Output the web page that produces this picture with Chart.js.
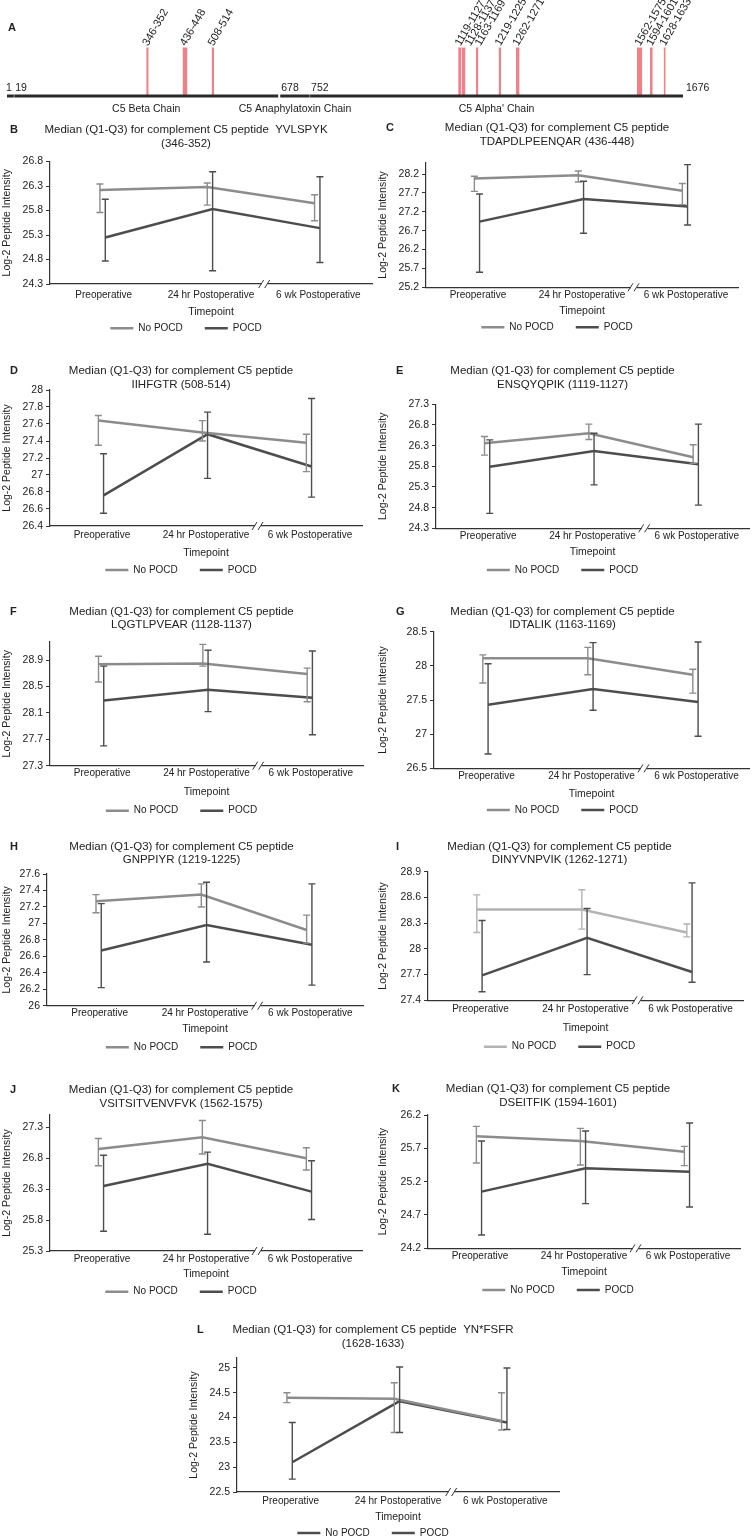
<!DOCTYPE html>
<html>
<head>
<meta charset="utf-8">
<script src="https://cdn.jsdelivr.net/npm/chart.js@4.4.1/dist/chart.umd.min.js"></script>
<style>
  body { margin: 0; background: #fff; }
  #page { position: relative; width: 752px; height: 1539px; overflow: hidden; }
</style>
</head>
<body>
<div id="page"></div>
<script>
// ---------- data ----------
const timepoints = ["Preoperative", "24 hr Postoperative", "6 wk Postoperative"];
const groups = ["No POCD", "POCD"];
const panelLetters = ["B", "C", "D", "E", "F", "G", "H", "I", "J", "K", "L"];
const peptideSeq = ["YVLSPYK", "TDAPDLPEENQAR", "IIHFGTR", "ENSQYQPIK", "LQGTLPVEAR", "IDTALIK",
                    "GNPPIYR", "DINYVNPVIK", "VSITSITVENVFVK", "DSEITFIK", "YN*FSFR"];
const peptideStart = [346, 436, 508, 1119, 1128, 1163, 1219, 1262, 1562, 1594, 1628];
const peptideEnd   = [352, 448, 514, 1127, 1137, 1169, 1225, 1271, 1575, 1601, 1633];

const chainNames = ["", "C5 Beta Chain", "C5 Anaphylatoxin Chain", "C5 Alpha' Chain"];
const chainStart = [1, 19, 678, 752];
const chainEnd   = [18, 673, 751, 1676];

const yTicks = [
  [24.3, 24.8, 25.3, 25.8, 26.3, 26.8],
  [25.2, 25.7, 26.2, 26.7, 27.2, 27.7, 28.2],
  [26.4, 26.6, 26.8, 27, 27.2, 27.4, 27.6, 27.8, 28],
  [24.3, 24.8, 25.3, 25.8, 26.3, 26.8, 27.3],
  [27.3, 27.5, 27.7, 27.9, 28.1, 28.3, 28.5, 28.7, 28.9, 29.1],
  [26.5, 27, 27.5, 28, 28.5],
  [26, 26.2, 26.4, 26.6, 26.8, 27, 27.2, 27.4, 27.6],
  [27.4, 27.7, 28, 28.3, 28.6, 28.9],
  [25.3, 25.8, 26.3, 26.8, 27.3],
  [24.2, 24.7, 25.2, 25.7, 26.2],
  [22.5, 23, 23.5, 24, 24.5, 25]
];
const yMax = [26.8, 28.5, 28, 27.3, 29.18, 28.5, 27.6, 28.9, 27.5, 26.2, 25.2];

// medians and quartiles, one row per peptide, values at the 3 timepoints
const noPocdMedian = [
  [26.22, 26.28, 25.95], [28.08, 28.17, 27.76], [27.64, 27.50, 27.38], [26.36, 26.60, 26.02],
  [28.84, 28.85, 28.69], [28.11, 28.11, 27.87], [27.27, 27.35, 26.92], [28.46, 28.46, 28.19],
  [26.95, 27.14, 26.80], [25.88, 25.81, 25.65], [24.40, 24.38, 23.93]
];
const noPocdQ1 = [
  [25.76, 25.91, 25.59], [27.74, 27.99, 27.39], [27.35, 27.40, 27.04], [26.07, 26.45, 25.87],
  [28.57, 28.81, 28.27], [27.75, 27.87, 27.60], [27.13, 27.20, 26.76], [28.19, 28.23, 28.14],
  [26.68, 26.87, 26.61], [25.48, 25.45, 25.44], [24.30, 23.70, 23.75]
];
const noPocdQ3 = [
  [26.34, 26.36, 26.12], [28.14, 28.28, 27.95], [27.70, 27.64, 27.48], [26.52, 26.82, 26.32],
  [28.96, 29.14, 28.78], [28.16, 28.27, 27.95], [27.35, 27.48, 27.10], [28.63, 28.69, 28.29],
  [27.12, 27.41, 26.97], [26.03, 26.00, 25.73], [24.50, 24.70, 24.50]
];
const pocdMedian = [
  [25.25, 25.83, 25.44], [26.94, 27.54, 27.34], [26.76, 27.48, 27.10], [25.79, 26.17, 25.85],
  [28.29, 28.45, 28.33], [27.43, 27.66, 27.47], [26.67, 26.98, 26.74], [27.69, 28.13, 27.73],
  [26.35, 26.71, 26.26], [25.05, 25.40, 25.35], [23.10, 24.33, 23.90]
];
const pocdQ1 = [
  [24.77, 24.57, 24.74], [25.60, 26.63, 26.85], [26.55, 26.96, 26.74], [24.66, 25.35, 24.86],
  [27.60, 28.12, 27.77], [26.71, 27.35, 26.97], [26.22, 26.53, 26.25], [27.50, 27.70, 27.61],
  [25.62, 25.57, 25.81], [24.40, 24.87, 24.82], [22.76, 23.70, 23.76]
];
const pocdQ3 = [
  [26.03, 26.59, 26.49], [27.67, 28.01, 28.45], [27.25, 27.74, 27.90], [26.44, 26.60, 26.82],
  [28.81, 29.05, 29.04], [28.03, 28.34, 28.35], [27.24, 27.50, 27.48], [28.33, 28.47, 28.77],
  [26.85, 26.90, 26.76], [25.81, 25.96, 26.08], [23.90, 25.02, 25.00]
];

// ---------- layout (page pixels) ----------
// left, title line 1 y, plot top, plot bottom, plot left, plot right, x label y, axis title y, legend y, letter x
const frames = [
  [0,   130,   161.5, 284,    50,  372, 295,    311.7, 328.3,  10],
  [376, 128.3, 162.7, 287.3,  426, 738, 295,    311,   327.3,  386],
  [0,   371,   390,   526,    50,  362, 535,    553.3, 570,    10],
  [376, 371,   404.3, 528.3,  436, 749, 536.7,  552.3, 570,    396],
  [0,   611.7, 641.7, 765.7,  50,  363, 773.3,  791.7, 810.7,  10],
  [376, 611.7, 631.7, 768.3,  434, 749, 776.7,  794.3, 810,    396],
  [0,   846.7, 874,   1005.7, 47,  363, 1013.3, 1029,  1047.3, 10],
  [376, 846.7, 871.7, 1000.3, 428, 743, 1009,   1028.3, 1046.7, 396],
  [0,   1090,  1115,  1251,   50,  362, 1259,   1274,  1291.7, 10],
  [376, 1089,  1115,  1248.3, 428, 740, 1256.7, 1272,  1290,   392],
  [187, 1330,  1358,  1492,   237, 559, 1501,   1517,  1533,   197]
];
const seqOnFirstLine = ["B", "L"];
const FONT = '"Liberation Sans", Arial, Helvetica, sans-serif';
const TEXT = '#222';
const AXIS = '#333';
const GREY = '#8c8c8c';
const DARK = '#4d4d4d';

Chart.defaults.font.family = FONT;
Chart.defaults.color = TEXT;
Chart.defaults.animation = false;

const page = document.getElementById('page');

function addCanvas(left, top, w, h) {
  const c = document.createElement('canvas');
  c.width = w;
  c.height = h;
  c.style.cssText = `position:absolute;left:${left}px;top:${top}px;width:${w}px;height:${h}px;`;
  page.appendChild(c);
  return c;
}

// ---------- panel A: peptide map on the C5 chains ----------
function drawProteinMap() {
  const W = 752, H = 120, lineY = 96, barTop = 48, xL = 7, xR = 683;
  const c = addCanvas(0, 0, W, H);
  const datasets = [];
  chainStart.forEach((s, k) => datasets.push({
    data: [{x: s, y: 0}, {x: chainEnd[k], y: 0}],
    showLine: true, borderColor: '#2a2a2a', borderWidth: 3, pointRadius: 0, clip: false
  }));
  peptideStart.forEach((s, k) => datasets.push({
    data: [{x: s, y: 1}, {x: peptideEnd[k], y: 1}],
    showLine: true, borderColor: '#f27f86', backgroundColor: '#f27f86', borderWidth: 1,
    fill: {value: 0}, pointRadius: 0, clip: false
  }));

  const mapText = {
    id: 'mapText',
    afterDraw(chart) {
      const {ctx, scales: {x, y}} = chart;
      const base = y.getPixelForValue(0), top = y.getPixelForValue(1);
      ctx.save();
      ctx.fillStyle = TEXT;
      ctx.font = `bold 11px ${FONT}`;
      ctx.textBaseline = 'middle';
      ctx.fillText('A', 8, 28);

      // residue numbers at chain ends
      ctx.font = `10.5px ${FONT}`;
      ctx.textAlign = 'center';
      ctx.fillText(String(chainStart[0]), x.getPixelForValue(chainStart[0]) + 2, base - 8);
      ctx.textAlign = 'left';
      for (let k = 1; k < chainStart.length; k++) {
        ctx.fillText(String(chainStart[k]), x.getPixelForValue(chainStart[k]) + 1, base - 8);
      }
      const last = chainEnd[chainEnd.length - 1];
      ctx.fillText(String(last), x.getPixelForValue(last) + 3, base - 8);

      // chain names
      ctx.textAlign = 'center';
      chainNames.forEach((n, k) => {
        if (!n) return;
        ctx.fillText(n, x.getPixelForValue((chainStart[k] + chainEnd[k]) / 2), base + 13);
      });

      // rotated peptide ranges, nudged apart when bars sit too close
      ctx.font = `11px ${FONT}`;
      ctx.textAlign = 'left';
      let prev = -Infinity;
      peptideStart.forEach((s, k) => {
        let px = x.getPixelForValue((s + peptideEnd[k]) / 2);
        if (px - prev < 10) px = prev + 10;
        prev = px;
        ctx.save();
        ctx.translate(px - 2, top - 3);
        ctx.rotate(-Math.PI / 3);
        ctx.fillText(`${s}-${peptideEnd[k]}`, 0, 0);
        ctx.restore();
      });
      ctx.restore();
    }
  };

  new Chart(c, {
    type: 'scatter',
    data: {datasets},
    options: {
      responsive: false,
      events: [],
      layout: {padding: {left: xL, right: W - xR, top: barTop, bottom: H - lineY}},
      scales: {
        x: {type: 'linear', min: 1, max: 1676, display: false},
        y: {min: 0, max: 1, display: false}
      },
      plugins: {legend: {display: false}, tooltip: {enabled: false}}
    },
    plugins: [mapText]
  });
}

// ---------- panels B-L ----------
function drawPanel(i) {
  const [left, titleY, plotTop, plotBottom, plotL, plotR, labY, timeY, legY, letterX] = frames[i];
  const W = 376, TLH = 13.5, LEGP = 22;
  const cTop = Math.round(titleY - 14);
  const legTop = legY - LEGP - 5;
  const cH = Math.round(legTop + LEGP + 20 + 3 - cTop);
  const padBottom = cTop + cH - (legTop + LEGP + 20);
  const c = addCanvas(left, cTop, W, cH);

  const letter = panelLetters[i];
  const range = `(${peptideStart[i]}-${peptideEnd[i]})`;
  const title = seqOnFirstLine.includes(letter)
    ? [`Median (Q1-Q3) for complement C5 peptide  ${peptideSeq[i]}`, range]
    : ['Median (Q1-Q3) for complement C5 peptide', `${peptideSeq[i]} ${range}`];

  const noColor = letter === 'I' ? '#b3b3b3' : GREY;
  const offsets = [-0.035, 0.015];
  const series = [
    {med: noPocdMedian[i], lo: noPocdQ1[i], hi: noPocdQ3[i], color: noColor},
    {med: pocdMedian[i], lo: pocdQ1[i], hi: pocdQ3[i], color: DARK}
  ];

  const errorBars = {
    id: 'errorBars',
    afterDatasetsDraw(chart) {
      const {ctx, scales: {x, y}} = chart;
      series.forEach((s, d) => {
        ctx.save();
        ctx.strokeStyle = s.color;
        ctx.lineWidth = 1.4;
        s.lo.forEach((lo, k) => {
          const px = x.getPixelForValue(k + offsets[d]);
          const y1 = y.getPixelForValue(lo), y2 = y.getPixelForValue(s.hi[k]);
          ctx.beginPath();
          ctx.moveTo(px, y1); ctx.lineTo(px, y2);
          ctx.moveTo(px - 3.5, y1); ctx.lineTo(px + 3.5, y1);
          ctx.moveTo(px - 3.5, y2); ctx.lineTo(px + 3.5, y2);
          ctx.stroke();
        });
        ctx.restore();
      });
    }
  };

  const decorations = {
    id: 'decorations',
    afterDraw(chart) {
      const {ctx, scales: {x}, chartArea} = chart;
      ctx.save();
      // axis break between 24 hr and 6 wk
      const px = x.getPixelForValue(1.5), py = chartArea.bottom;
      ctx.fillStyle = '#fff';
      ctx.fillRect(px - 3, py - 2, 6, 4);
      ctx.strokeStyle = AXIS;
      ctx.lineWidth = 1;
      ctx.beginPath();
      ctx.moveTo(px - 6, py + 4); ctx.lineTo(px - 1, py - 4);
      ctx.moveTo(px, py + 4); ctx.lineTo(px + 5, py - 4);
      ctx.stroke();
      // panel letter
      ctx.fillStyle = TEXT;
      ctx.font = `bold 11px ${FONT}`;
      ctx.textBaseline = 'middle';
      ctx.fillText(letter, letterX - left, titleY - cTop);
      ctx.restore();
    }
  };

  new Chart(c, {
    type: 'line',
    data: {
      datasets: series.map((s, d) => ({
        label: groups[d],
        data: s.med.map((m, k) => ({x: k + offsets[d], y: m})),
        borderColor: s.color,
        backgroundColor: s.color,
        borderWidth: 2.5,
        pointRadius: 0,
        tension: 0,
        clip: false
      }))
    },
    options: {
      responsive: false,
      events: [],
      layout: {padding: {left: 0, top: 0, right: left + W - plotR, bottom: padBottom}},
      scales: {
        x: {
          type: 'linear', min: -0.5, max: 2.5,
          afterBuildTicks: s => { s.ticks = timepoints.map((t, k) => ({value: k})); },
          afterFit: s => { s.height = legTop - plotBottom; },
          grid: {display: false, drawTicks: false},
          border: {display: true, color: AXIS, width: 1.2},
          ticks: {
            autoSkip: false, maxRotation: 0, padding: labY - plotBottom - 6,
            font: {size: 10}, color: TEXT,
            callback: v => timepoints[v]
          },
          title: {
            display: true, text: 'Timepoint', color: TEXT,
            font: {size: 10.5},
            padding: {top: 0, bottom: legTop - timeY - 6.3}
          }
        },
        y: {
          type: 'linear', min: yTicks[i][0], max: yMax[i],
          afterBuildTicks: s => { s.ticks = yTicks[i].map(v => ({value: v})); },
          afterFit: s => { s.width = plotL - left; },
          grid: {drawOnChartArea: false, drawTicks: true, tickLength: 4, color: AXIS},
          border: {display: true, color: AXIS, width: 1.2},
          ticks: {padding: 3, font: {size: 10.5}, color: TEXT, callback: v => String(v)},
          title: {
            display: true, text: 'Log-2 Peptide Intensity', color: TEXT,
            font: {size: 10.5}, padding: {top: 1.2, bottom: 0}
          }
        }
      },
      plugins: {
        title: {
          display: true, text: title, color: TEXT,
          font: {size: 11.5, weight: 'normal', lineHeight: TLH / 11.5},
          padding: {top: titleY - TLH / 2 - cTop, bottom: plotTop - (titleY - TLH / 2 + 2 * TLH)}
        },
        legend: {
          position: 'bottom',
          labels: {
            usePointStyle: true, pointStyle: 'line', pointStyleWidth: 23,
            padding: LEGP, font: {size: 10}, color: TEXT,
            generateLabels: chart => {
              const items = Chart.defaults.plugins.legend.labels.generateLabels(chart);
              if (letter === 'L') items.forEach(it => { it.strokeStyle = DARK; });
              return items;
            }
          }
        },
        tooltip: {enabled: false}
      }
    },
    plugins: [errorBars, decorations]
  });
}

drawProteinMap();
panelLetters.forEach((_, i) => drawPanel(i));
</script>
</body>
</html>
